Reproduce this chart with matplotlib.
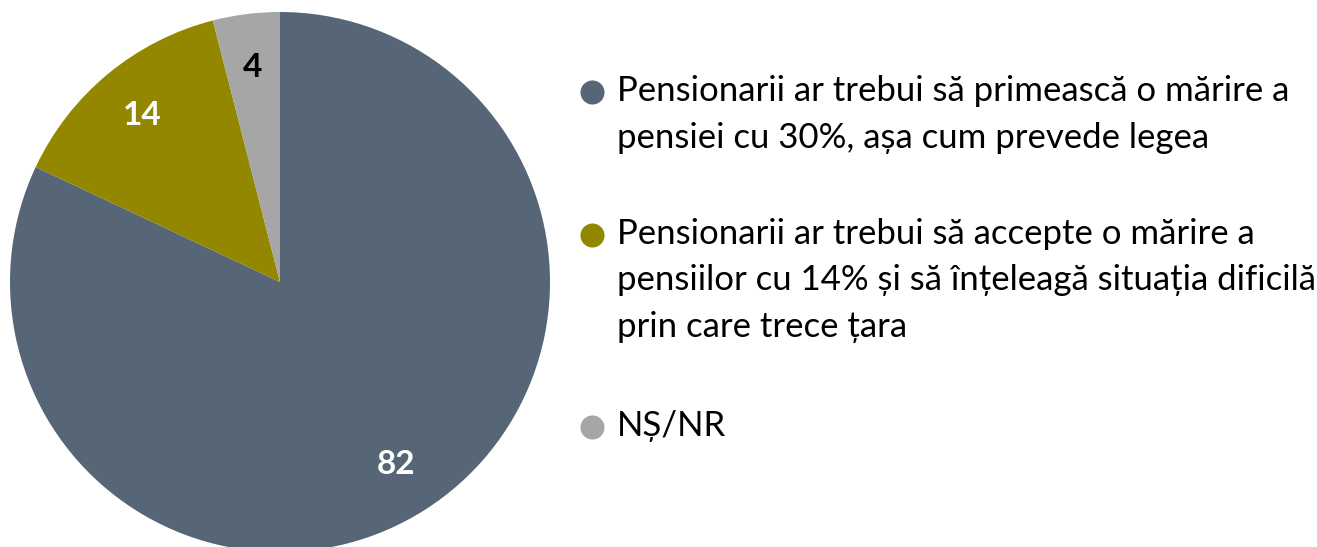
import matplotlib
matplotlib.use("Agg")
from matplotlib import pyplot as plt

plt.rcParams["font.family"] = ["Lato", "DejaVu Sans"]

labels = [
    "Pensionarii ar trebui să primească o mărire a\npensiei cu 30%, așa cum prevede legea",
    "Pensionarii ar trebui să accepte o mărire a\npensiilor cu 14% și să înțeleagă situația dificilă\nprin care trece țara",
    "NȘ/NR",
]
values = [82, 14, 4]
colors = ["#566676", "#938700", "#a6a6a6"]
text_colors = ["white", "white", "black"]

W, H = 1317, 547
fig = plt.figure(figsize=(W / 100, H / 100), dpi=100)

# pie axes: centre (280, 282) px from top, radius 270 px
cx, cy, r = 280, 282, 270
ax = fig.add_axes([(cx - r) / W, (H - cy - r) / H, 2 * r / W, 2 * r / H])
wedges, texts = ax.pie(values, colors=colors, startangle=90, counterclock=False,
                       labels=[str(v) for v in values], labeldistance=0.8,
                       wedgeprops=dict(linewidth=0))
for t, c in zip(texts, text_colors):
    t.set_color(c)
    t.set_fontsize(24)
    t.set_fontweight("bold")
    t.set_ha("center")
    t.set_va("center")
ax.set_xlim(-1, 1)
ax.set_ylim(-1, 1)
ax.set_aspect("equal")
ax.axis("off")

# legend drawn in pixel coordinates
lg = fig.add_axes([0, 0, 1, 1])
lg.set_xlim(0, W)
lg.set_ylim(H, 0)
lg.axis("off")
lg.patch.set_alpha(0)
item_y = [92, 235, 427]
line_h = 46.5
for lab, col, y in zip(labels, colors, item_y):
    lg.scatter([592], [y], s=300, color=col, linewidths=0)
    for i, line in enumerate(lab.split("\n")):
        lg.text(617, y + 9 + i * line_h, line, fontsize=25, color="black",
                ha="left", va="baseline")

fig.savefig("out.png", dpi=100)
